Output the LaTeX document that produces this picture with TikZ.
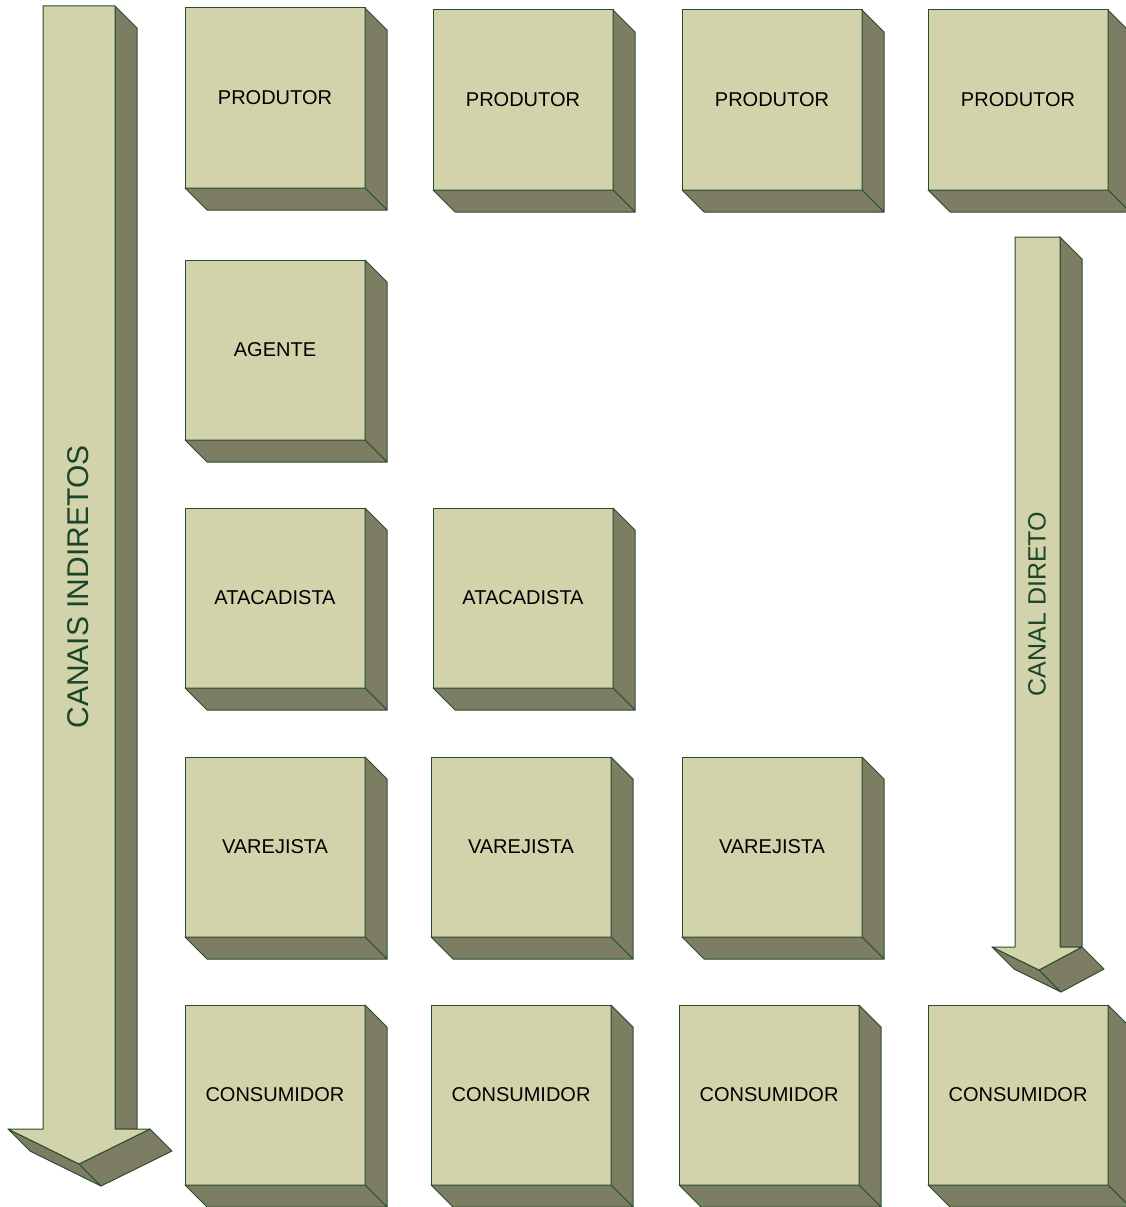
\documentclass[tikz,border=0pt]{standalone}
\usepackage{fontspec}
\setmainfont{Liberation Sans}
\usetikzlibrary{calc}
\definecolor{facelight}{RGB}{210,211,171}
\definecolor{facedark}{RGB}{125,125,100}
\definecolor{edgegreen}{RGB}{38,78,48}
\definecolor{labelgreen}{RGB}{25,70,40}

% a bevelled block: front face node plus right and bottom faces
\newcommand\boxblock[4]{%
  \node[front] (#1) at (#2,#3) {#4};
  \draw[side] (#1.north east) -- ++(22,22) -- ($(#1.south east)+(22,22)$) -- (#1.south east) -- cycle;
  \draw[side] (#1.south west) -- ++(22,22) -- ($(#1.south east)+(22,22)$) -- (#1.south east) -- cycle;
}

\begin{document}
\begin{tikzpicture}[x=1pt,y=-1pt,
  front/.style={draw=edgegreen,fill=facelight,line width=1pt,minimum width=180pt,
    minimum height=180pt,inner sep=0pt,outer sep=0pt,anchor=north west,
    font=\fontsize{20}{24}\selectfont},
  side/.style={draw=edgegreen,fill=facedark,line width=1pt,line join=round},
  face/.style={draw=edgegreen,fill=facelight,line width=1pt,line join=round},
  arrowlabel/.style={rotate=90,text=labelgreen,inner sep=0pt}]
\useasboundingbox (0,0) rectangle (1125,1207);

% long arrow on the left
\draw[side] (115,6) -- (137,28) -- (137,1129) -- (115,1129) -- cycle;
\draw[side] (8,1129) -- (30,1151) -- (101,1186) -- (79,1164) -- cycle;
\draw[side] (79,1164) -- (101,1186) -- (172,1151) -- (150,1129) -- cycle;
\draw[face] (43,6) -- (115,6) -- (115,1129) -- (150,1129) -- (79,1164) -- (8,1129) -- (43,1129) -- cycle;
\node[arrowlabel,font=\fontsize{30}{36}\selectfont] (indiretos) at (78,587) {CANAIS INDIRETOS};

% short arrow on the right
\draw[side] (1060,237) -- (1082,259) -- (1082,947) -- (1060,947) -- cycle;
\draw[side] (992,947) -- (1014,969) -- (1061,992) -- (1039,970) -- cycle;
\draw[side] (1039,970) -- (1061,992) -- (1104,969) -- (1082,947) -- cycle;
\draw[face] (1015,237) -- (1060,237) -- (1060,947) -- (1082,947) -- (1039,970) -- (992,947) -- (1015,947) -- cycle;
\node[arrowlabel,font=\fontsize{25}{30}\selectfont] (direto) at (1037,604) {CANAL DIRETO};

% row 1
\boxblock{p1}{185}{8}{PRODUTOR}
\boxblock{p2}{433}{10}{PRODUTOR}
\boxblock{p3}{682}{10}{PRODUTOR}
\boxblock{p4}{928}{10}{PRODUTOR}
% row 2
\boxblock{ag1}{185}{260}{AGENTE}
% row 3
\boxblock{at1}{185}{508}{ATACADISTA}
\boxblock{at2}{433}{508}{ATACADISTA}
% row 4
\boxblock{v1}{185}{757}{VAREJISTA}
\boxblock{v2}{431}{757}{VAREJISTA}
\boxblock{v3}{682}{757}{VAREJISTA}
% row 5
\boxblock{c1}{185}{1005}{CONSUMIDOR}
\boxblock{c2}{431}{1005}{CONSUMIDOR}
\boxblock{c3}{679}{1005}{CONSUMIDOR}
\boxblock{c4}{928}{1005}{CONSUMIDOR}
\end{tikzpicture}
\end{document}
